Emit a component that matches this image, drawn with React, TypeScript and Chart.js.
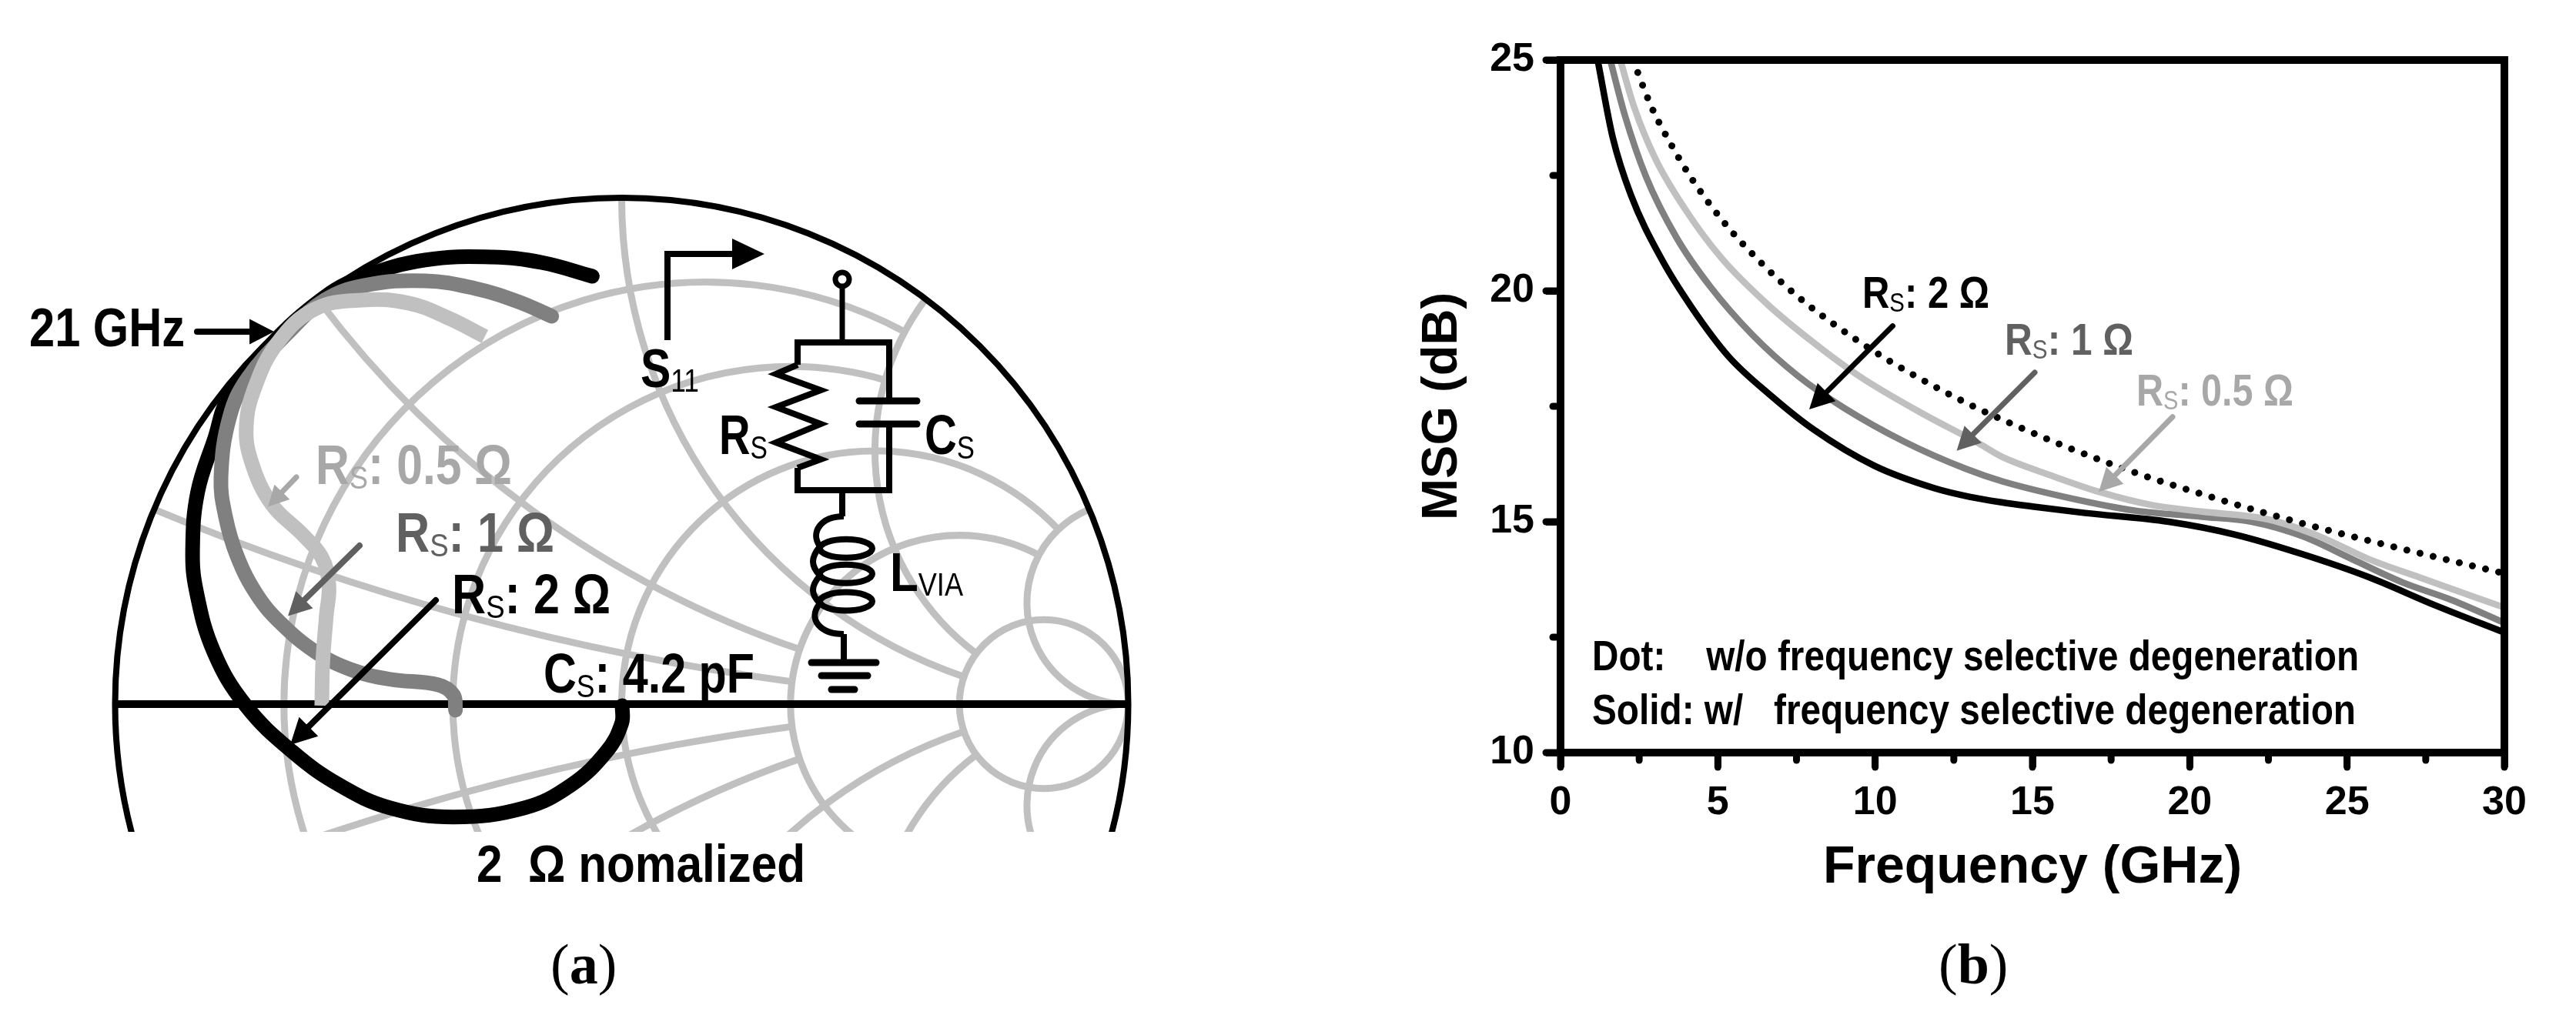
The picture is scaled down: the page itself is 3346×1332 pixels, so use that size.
import React, { useEffect, useRef } from "react";
import { Chart, registerables } from "chart.js";

Chart.register(...registerables);

const SANS = '"Liberation Sans", Arial, sans-serif';
const SERIF = '"Liberation Serif", serif';

// Panel (b): MSG vs. frequency
const freq2 = [1.18, 1.66, 2.24, 3.21, 4.17, 5.34, 6.69, 8.04, 9.98, 11.91, 13, 14.02, 15, 16.67, 19.33, 21.45, 23.57, 25.69, 27.8, 30];
const msg2 = [25, 23.32, 22.07, 20.69, 19.64, 18.58, 17.73, 17.0, 16.21, 15.72, 15.54, 15.42, 15.33, 15.19, 15.0, 14.72, 14.3, 13.8, 13.19, 12.6];
const freq1 = [1.58, 2.05, 2.72, 3.69, 4.75, 6.11, 7.56, 9.0, 10.94, 12.87, 14.02, 16.14, 18.27, 20.38, 21.97, 23.57, 25.16, 26.75, 28.34, 30];
const msg1 = [25, 23.79, 22.47, 21.15, 20.1, 19.04, 18.15, 17.47, 16.73, 16.15, 15.88, 15.52, 15.24, 15.11, 15.0, 14.69, 14.19, 13.69, 13.3, 12.81];
const freq05 = [1.9, 2.34, 3.01, 3.98, 5.14, 6.59, 8.04, 9.5, 11.43, 13.36, 14.02, 15.6, 17.2, 18.8, 20.38, 22.5, 24.1, 25.69, 27.28, 30];
const msg05 = [25, 23.98, 22.87, 21.75, 20.69, 19.7, 18.88, 18.15, 17.37, 16.67, 16.41, 16.0, 15.63, 15.36, 15.22, 15.05, 14.69, 14.19, 13.8, 13.14];
const freqDot = [2.3, 2.9, 3.49, 4.15, 5.14, 6.27, 7.5, 8.83, 10.27, 11.75, 13.27, 14.41, 16.34, 18.32, 20.33, 22.34, 24.37, 26.4, 28.46, 30];
const msgDot = [25, 23.97, 23.2, 22.45, 21.53, 20.68, 19.9, 19.21, 18.56, 17.98, 17.45, 17.1, 16.55, 16.05, 15.61, 15.2, 14.82, 14.47, 14.13, 13.88];
const minorTicksX = [2.5, 7.5, 12.5, 17.5, 22.5, 27.5];
const minorTicksY = [12.5, 17.5, 22.5];

// Panel (a): reflection coefficient traces (real, imaginary)
const re2 = [0.001, 0, -0.03, -0.1, -0.192, -0.332, -0.457, -0.557, -0.65, -0.742, -0.805, -0.84, -0.847, -0.837, -0.803, -0.777, -0.698, -0.586, -0.507, -0.388, -0.256, -0.157, -0.058];
const im2 = [-0.003, -0.038, -0.094, -0.16, -0.205, -0.223, -0.205, -0.16, -0.094, -0.003, 0.103, 0.225, 0.307, 0.419, 0.526, 0.603, 0.704, 0.804, 0.845, 0.877, 0.883, 0.872, 0.845];
const re1 = [-0.328, -0.332, -0.362, -0.457, -0.534, -0.604, -0.673, -0.72, -0.759, -0.782, -0.791, -0.774, -0.738, -0.659, -0.586, -0.507, -0.388, -0.29, -0.205, -0.138];
const im1 = [-0.012, 0.018, 0.038, 0.049, 0.068, 0.103, 0.16, 0.216, 0.292, 0.37, 0.448, 0.567, 0.644, 0.733, 0.798, 0.827, 0.836, 0.821, 0.795, 0.766];
const re05 = [-0.592, -0.59, -0.583, -0.578, -0.592, -0.63, -0.691, -0.731, -0.741, -0.724, -0.679, -0.606, -0.513, -0.421, -0.343, -0.27];
const im05 = [-0.003, 0.084, 0.175, 0.235, 0.29, 0.335, 0.395, 0.479, 0.549, 0.626, 0.714, 0.78, 0.798, 0.792, 0.763, 0.726];

// Smith chart grid: [normalised value, value on the other family where the arc stops]
const resistanceCircles = [[0.2, 2], [0.5, 2], [1, 5], [2, 5], [5, 0]];
const reactanceArcs = [[0.2, 2], [0.5, 2], [1, 5], [2, 5], [5, 0]];

const BLACK = "#000000";
const MID = "#808080";
const LIGHT = "#c0c0c0";
const LABEL_MID = "#606060";
const LABEL_LIGHT = "#a8a8a8";

type Piece = [string, boolean?];

function rich(ctx: CanvasRenderingContext2D, x: number, y: number, size: number, color: string, pieces: Piece[], target: number) {
  ctx.save();
  ctx.fillStyle = color;
  ctx.textAlign = "left";
  ctx.textBaseline = "alphabetic";
  const fontOf = (sub?: boolean) => (sub ? `${size * 0.6}px ${SANS}` : `bold ${size}px ${SANS}`);
  let total = 0;
  for (const [t, sub] of pieces) {
    ctx.font = fontOf(sub);
    total += ctx.measureText(t).width;
  }
  ctx.translate(x, y);
  ctx.scale(target / total, 1);
  let cx = 0;
  for (const [t, sub] of pieces) {
    ctx.font = fontOf(sub);
    ctx.fillText(t, cx, sub ? size * 0.08 : 0);
    cx += ctx.measureText(t).width;
  }
  ctx.restore();
}

function caption(ctx: CanvasRenderingContext2D, x: number, y: number, letter: string) {
  ctx.save();
  ctx.fillStyle = BLACK;
  ctx.textAlign = "left";
  ctx.textBaseline = "alphabetic";
  let cx = x;
  for (const [t, bold] of [["(", false], [letter, true], [")", false]] as [string, boolean][]) {
    ctx.font = `${bold ? "bold " : ""}74px ${SERIF}`;
    ctx.fillText(t, cx, y);
    cx += ctx.measureText(t).width;
  }
  ctx.restore();
}

function arrow(ctx: CanvasRenderingContext2D, x0: number, y0: number, x1: number, y1: number, color: string, w = 7, head = 34) {
  const a = Math.atan2(y1 - y0, x1 - x0);
  ctx.save();
  ctx.strokeStyle = color;
  ctx.fillStyle = color;
  ctx.lineWidth = w;
  ctx.lineCap = "round";
  ctx.beginPath();
  ctx.moveTo(x0, y0);
  ctx.lineTo(x1 - Math.cos(a) * head * 0.8, y1 - Math.sin(a) * head * 0.8);
  ctx.stroke();
  ctx.beginPath();
  ctx.moveTo(x1, y1);
  ctx.lineTo(x1 - Math.cos(a - 0.48) * head, y1 - Math.sin(a - 0.48) * head);
  ctx.lineTo(x1 - Math.cos(a + 0.48) * head, y1 - Math.sin(a + 0.48) * head);
  ctx.closePath();
  ctx.fill();
  ctx.restore();
}

// point of the reflection plane for normalised impedance r + jx
const gamma = (r: number, x: number): [number, number] => {
  const d = (r + 1) * (r + 1) + x * x;
  return [(r * r + x * x - 1) / d, (2 * x) / d];
};

const smithGrid = {
  id: "smithGrid",
  beforeDatasetsDraw(chart: any) {
    const { ctx, scales } = chart;
    const sx = scales.x;
    const sy = scales.y;
    const cx = sx.getPixelForValue(0);
    const cy = sy.getPixelForValue(0);
    const R = sx.getPixelForValue(1) - cx;
    const bottom = chart.chartArea.bottom;
    ctx.save();
    ctx.beginPath();
    ctx.rect(0, 0, chart.width, bottom);
    ctx.clip();
    ctx.save();
    ctx.beginPath();
    ctx.arc(cx, cy, R, 0, Math.PI * 2);
    ctx.clip();
    ctx.strokeStyle = LIGHT;
    ctx.lineWidth = 9;
    ctx.lineCap = "butt";
    for (const [r, stop] of resistanceCircles) {
      const c = r / (1 + r);
      const rad = 1 / (1 + r);
      ctx.beginPath();
      if (!stop) {
        ctx.arc(cx + R * c, cy, R * rad, 0, Math.PI * 2);
      } else {
        const [gx, gy] = gamma(r, stop);
        const a = Math.atan2(gy, gx - c);
        // canvas y runs downwards: sweep through the left-hand side
        ctx.arc(cx + R * c, cy, R * rad, -a, a, true);
      }
      ctx.stroke();
    }
    for (const [x, stop] of reactanceArcs) {
      for (const s of [1, -1]) {
        const cen = s / x;
        const rad = 1 / x;
        const [g0x, g0y] = gamma(0, s * x);
        const [g1x, g1y] = gamma(stop, s * x);
        const a0 = Math.atan2(-(g0y - cen), g0x - 1);
        const a1 = stop ? Math.atan2(-(g1y - cen), g1x - 1) : Math.atan2(cen, 0);
        let span = a1 - a0;
        while (span > Math.PI) span -= 2 * Math.PI;
        while (span < -Math.PI) span += 2 * Math.PI;
        ctx.beginPath();
        ctx.arc(cx + R, cy - R * cen, R * rad, a0, a0 + span, span < 0);
        ctx.stroke();
      }
    }
    ctx.restore();
    ctx.strokeStyle = BLACK;
    ctx.lineWidth = 8;
    ctx.beginPath();
    ctx.arc(cx, cy, R, 0, Math.PI * 2);
    ctx.stroke();
    ctx.lineWidth = 10;
    ctx.beginPath();
    ctx.moveTo(cx - R, cy);
    ctx.lineTo(cx + R, cy);
    ctx.stroke();
    ctx.restore();
  },
};

const schematic = {
  id: "schematic",
  afterDatasetsDraw(chart: any) {
    const ctx: CanvasRenderingContext2D = chart.ctx;
    ctx.save();
    const poly = (pts: number[][], w = 8, cap: CanvasLineCap = "square") => {
      ctx.strokeStyle = BLACK;
      ctx.lineWidth = w;
      ctx.lineJoin = "miter";
      ctx.lineCap = cap;
      ctx.beginPath();
      pts.forEach(([a, b], i) => {
        if (i) ctx.lineTo(a, b);
        else ctx.moveTo(a, b);
      });
      ctx.stroke();
    };
    // S11 pointer
    poly([[867, 442], [867, 330], [955, 330]], 8, "butt");
    ctx.fillStyle = BLACK;
    ctx.beginPath();
    ctx.moveTo(993, 330);
    ctx.lineTo(951, 310);
    ctx.lineTo(951, 350);
    ctx.closePath();
    ctx.fill();
    // port
    ctx.strokeStyle = BLACK;
    ctx.lineWidth = 7;
    ctx.beginPath();
    ctx.arc(1094, 363, 9, 0, Math.PI * 2);
    ctx.stroke();
    poly([[1094, 373], [1094, 445]], 7, "butt");
    // RC tank
    poly([[1036, 474], [1036, 445], [1155, 445], [1155, 521]], 8, "butt");
    poly([[1155, 551], [1155, 637], [1036, 637], [1036, 608]], 8, "butt");
    poly([[1036, 474], [1008, 486], [1066, 507], [1008, 529], [1066, 551], [1008, 575], [1066, 597], [1036, 608]], 8, "butt");
    poly([[1116, 521], [1191, 521]], 9, "round");
    poly([[1116, 551], [1191, 551]], 9, "round");
    // inductor
    poly([[1094, 637], [1094, 671]], 8, "butt");
    const bez = (a: number[], b: number[], c: number[], d: number[]) => {
      ctx.beginPath();
      ctx.moveTo(a[0], a[1]);
      ctx.bezierCurveTo(b[0], b[1], c[0], c[1], d[0], d[1]);
      ctx.stroke();
    };
    ctx.lineWidth = 8;
    ctx.lineCap = "butt";
    bez([1096, 671], [1066, 671], [1052, 692], [1065, 710]);
    bez([1065, 710], [1053, 725], [1053, 735], [1065, 748]);
    bez([1065, 748], [1053, 762], [1053, 772], [1065, 784]);
    bez([1065, 784], [1048, 805], [1066, 824], [1096, 824]);
    ctx.lineWidth = 8;
    for (const y of [712.7, 745.8, 781.6]) {
      ctx.beginPath();
      ctx.ellipse(1099, y, 34, 12, 0, 0, Math.PI * 2);
      ctx.stroke();
    }
    poly([[1096, 824], [1096, 861]], 8, "butt");
    poly([[1054, 861], [1138, 861]], 9, "round");
    poly([[1067, 878], [1127, 878]], 9, "round");
    poly([[1080, 896], [1110, 896]], 9, "round");

    // arrows
    arrow(ctx, 256, 431, 356, 431, BLACK, 8, 36);
    arrow(ctx, 385, 620, 348, 658.5, LABEL_LIGHT, 7, 30);
    arrow(ctx, 467, 709, 374, 800.6, LABEL_MID, 8, 34);
    arrow(ctx, 566, 780, 377, 968, BLACK, 8, 38);

    // labels
    rich(ctx, 38, 450, 70, BLACK, [["21 GHz"]], 202);
    rich(ctx, 410, 629, 72, LABEL_LIGHT, [["R"], ["S", true], [": 0.5 Ω"]], 255);
    rich(ctx, 514, 717, 72, LABEL_MID, [["R"], ["S", true], [": 1 Ω"]], 206);
    rich(ctx, 587, 797, 72, BLACK, [["R"], ["S", true], [": 2 Ω"]], 206);
    rich(ctx, 706, 900, 72, BLACK, [["C"], ["S", true], [": 4.2 pF"]], 274);
    rich(ctx, 619, 1146, 68, BLACK, [["2  Ω nomalized"]], 427);
    rich(ctx, 832, 503, 70, BLACK, [["S"], ["11", true]], 76);
    rich(ctx, 934, 590, 72, BLACK, [["R"], ["S", true]], 63);
    rich(ctx, 1201, 590, 72, BLACK, [["C"], ["S", true]], 65);
    rich(ctx, 1156, 768, 70, BLACK, [["L"], ["VIA", true]], 95);
    caption(ctx, 715, 1278, "a");
    ctx.restore();
  },
};

const frame = {
  id: "frame",
  afterDatasetsDraw(chart: any) {
    const ctx: CanvasRenderingContext2D = chart.ctx;
    const { left, right, top, bottom } = chart.chartArea;
    const ox = 1673;
    const sx = chart.scales.x;
    const sy = chart.scales.y;
    ctx.save();
    ctx.strokeStyle = BLACK;
    ctx.lineWidth = 10;
    ctx.strokeRect(left, top, right - left, bottom - top);
    ctx.lineWidth = 9;
    ctx.lineCap = "round";
    const seg = (x0: number, y0: number, x1: number, y1: number) => {
      ctx.beginPath();
      ctx.moveTo(x0, y0);
      ctx.lineTo(x1, y1);
      ctx.stroke();
    };
    for (const t of sx.ticks) seg(sx.getPixelForValue(t.value), bottom, sx.getPixelForValue(t.value), bottom + 19);
    for (const t of sy.ticks) seg(left, sy.getPixelForValue(t.value), left - 19, sy.getPixelForValue(t.value));
    for (const v of minorTicksX) seg(sx.getPixelForValue(v), bottom, sx.getPixelForValue(v), bottom + 10);
    for (const v of minorTicksY) seg(left, sy.getPixelForValue(v), left - 10, sy.getPixelForValue(v));
    arrow(ctx, 2458.5 - ox, 423.6, 2350 - ox, 532, BLACK, 7, 36);
    arrow(ctx, 2643 - ox, 484, 2541.5 - ox, 585.7, LABEL_MID, 7, 34);
    arrow(ctx, 2822 - ox, 541.7, 2726 - ox, 639.3, LABEL_LIGHT, 7, 34);
    rich(ctx, 2419 - ox, 400, 58, BLACK, [["R"], ["S", true], [": 2 Ω"]], 165);
    rich(ctx, 2604 - ox, 461, 58, LABEL_MID, [["R"], ["S", true], [": 1 Ω"]], 167);
    rich(ctx, 2775 - ox, 527, 58, LABEL_LIGHT, [["R"], ["S", true], [": 0.5 Ω"]], 204);
    rich(ctx, 2068 - ox, 871, 55, BLACK, [["Dot:    w/o frequency selective degeneration"]], 996);
    rich(ctx, 2068 - ox, 941, 55, BLACK, [["Solid: w/   frequency selective degeneration"]], 992);
    caption(ctx, 2518 - ox, 1278, "b");
    ctx.restore();
  },
};

const pairs = (xs: number[], ys: number[]) => xs.map((x, i) => ({ x, y: ys[i] }));

const curve = (label: string, xs: number[], ys: number[], color: string, width: number, extra: object = {}) => ({
  label,
  data: pairs(xs, ys),
  borderColor: color,
  backgroundColor: color,
  borderWidth: width,
  pointRadius: 0,
  showLine: true,
  tension: 0.4,
  ...extra,
});

export default function App() {
  const leftRef = useRef<HTMLCanvasElement>(null);
  const rightRef = useRef<HTMLCanvasElement>(null);

  useEffect(() => {
    document.body.style.margin = "0";
    const left = new Chart(leftRef.current!, {
      type: "scatter",
      data: {
        datasets: [
          curve("RS 0.5 ohm", re05, im05, LIGHT, 19),
          curve("RS 1 ohm", re1, im1, MID, 19, { borderCapStyle: "round" }),
          curve("RS 2 ohm", re2, im2, BLACK, 19, { borderCapStyle: "round" }),
        ] as any,
      },
      options: {
        responsive: false,
        animation: false,
        devicePixelRatio: 1,
        layout: { autoPadding: false, padding: { left: 129.76, right: 187.76, top: 237.26, bottom: 251 } },
        plugins: { legend: { display: false }, tooltip: { enabled: false } },
        scales: {
          x: { type: "linear", min: -1.03, max: 1.03, display: false },
          y: { type: "linear", min: -0.2523, max: 1.03, display: false },
        },
      },
      plugins: [smithGrid, schematic],
    });
    const mono = { cubicInterpolationMode: "monotone" };
    const right = new Chart(rightRef.current!, {
      type: "scatter",
      data: {
        datasets: [
          curve("w/o", freqDot, msgDot, BLACK, 9, { ...mono, borderDash: [0.01, 17.5], borderCapStyle: "round" }),
          curve("RS 0.5 ohm", freq05, msg05, LIGHT, 8.5, mono),
          curve("RS 1 ohm", freq1, msg1, MID, 8.5, mono),
          curve("RS 2 ohm", freq2, msg2, BLACK, 8.5, mono),
        ] as any,
      },
      options: {
        responsive: false,
        animation: false,
        devicePixelRatio: 1,
        layout: { autoPadding: false, padding: { left: 162, right: 93, top: 78, bottom: 163 } },
        plugins: { legend: { display: false }, tooltip: { enabled: false } },
        scales: {
          x: {
            type: "linear",
            min: 0,
            max: 30,
            afterFit: (s: any) => { s.height = 191; },
            ticks: { stepSize: 5, maxRotation: 0, autoSkip: false, padding: 15, color: BLACK, font: { family: SANS, weight: "bold", size: 52 } },
            grid: { drawOnChartArea: false, tickLength: 19, tickWidth: 9, tickColor: BLACK },
            border: { display: false },
            title: { display: true, text: "Frequency (GHz)", color: BLACK, padding: 0, font: { family: SANS, weight: "bold", size: 68 } },
          },
          y: {
            type: "linear",
            min: 10,
            max: 25,
            afterFit: (s: any) => { s.width = 192; },
            ticks: { stepSize: 5, padding: 15, color: BLACK, font: { family: SANS, weight: "bold", size: 52 } },
            grid: { drawOnChartArea: false, tickLength: 19, tickWidth: 9, tickColor: BLACK },
            border: { display: false },
            title: { display: true, text: "MSG (dB)", color: BLACK, padding: 0, font: { family: SANS, weight: "bold", size: 65 } },
          },
        },
      },
      plugins: [frame],
    });
    return () => {
      left.destroy();
      right.destroy();
    };
  }, []);

  return (
    <div style={{ position: "absolute", left: 0, top: 0, width: 3346, height: 1332, overflow: "hidden", background: "#fff" }}>
      <canvas ref={leftRef} width={1673} height={1332} style={{ position: "absolute", left: 0, top: 0, width: 1673, height: 1332 }} />
      <canvas ref={rightRef} width={1673} height={1332} style={{ position: "absolute", left: 1673, top: 0, width: 1673, height: 1332 }} />
    </div>
  );
}
